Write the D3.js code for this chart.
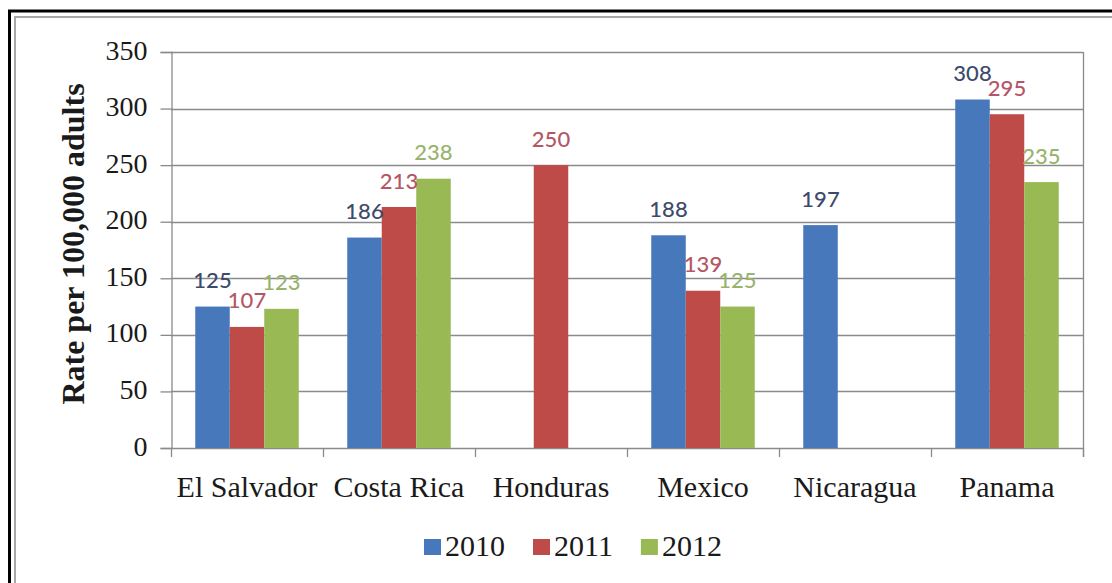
<!DOCTYPE html>
<html>
<head>
<meta charset="utf-8">
<script src="https://cdn.jsdelivr.net/npm/d3@7"></script>
<style>
  html, body { margin: 0; padding: 0; background: #fff; }
  svg { display: block; }
</style>
</head>
<body>
<svg id="chart" width="1112" height="583"></svg>
<script>
const categories = ["El Salvador", "Costa Rica", "Honduras", "Mexico", "Nicaragua", "Panama"];
const years = ["2010", "2011", "2012"];
const values2010 = [125, 186, null, 188, 197, 308];
const values2011 = [107, 213, 250, 139, null, 295];
const values2012 = [123, 238, null, 125, null, 235];
const yTicks = [0, 50, 100, 150, 200, 250, 300, 350];
const yTitle = "Rate per 100,000 adults";

const seriesValues = [values2010, values2011, values2012];
const barColors = ["#4678bb", "#be4b48", "#98b954"];
const labelColors = ["#3d4a6c", "#b45666", "#98b46c"];

const svg = d3.select("#chart");
const W = 1112, H = 583;
const plot = { left: 171, right: 1083, top: 52, bottom: 448 };
const serif = "'Liberation Serif', 'Times New Roman', serif";
const gridColor = "#8a8a8a";

// outer frame
svg.append("line").attr("x1", 9.5).attr("x2", 9.5).attr("y1", 10).attr("y2", H).attr("stroke", "#000").attr("stroke-width", 3);
svg.append("line").attr("x1", 8).attr("x2", W).attr("y1", 11).attr("y2", 11).attr("stroke", "#000").attr("stroke-width", 3);
svg.append("line").attr("x1", 15).attr("x2", 15).attr("y1", 17).attr("y2", H).attr("stroke", "#a8a8a8").attr("stroke-width", 2);
svg.append("line").attr("x1", 14).attr("x2", W).attr("y1", 17).attr("y2", 17).attr("stroke", "#a8a8a8").attr("stroke-width", 2);

const y = d3.scaleLinear().domain([0, 350]).range([plot.bottom, plot.top]);
const x0 = d3.scaleBand().domain(categories).range([plot.left, plot.right]).paddingInner(0).paddingOuter(0);
const x1 = d3.scaleBand().domain(years).range([0, x0.bandwidth()]).paddingInner(0).paddingOuter(0.703);

// gridlines
svg.append("g").selectAll("line").data(yTicks.filter(t => t > 0)).join("line")
  .attr("x1", plot.left).attr("x2", plot.right)
  .attr("y1", d => Math.round(y(d)) + 0.5).attr("y2", d => Math.round(y(d)) + 0.5)
  .attr("stroke", gridColor).attr("stroke-width", 1.3);

// right plot border
svg.append("line").attr("x1", plot.right + 0.5).attr("x2", plot.right + 0.5)
  .attr("y1", plot.top).attr("y2", plot.bottom + 9).attr("stroke", gridColor).attr("stroke-width", 1.3);

// y axis
const yAxis = d3.axisLeft(y).tickValues(yTicks).tickSize(11).tickPadding(13).tickFormat(d3.format("d"));
const gy = svg.append("g").attr("transform", `translate(${plot.left + 0.5},0)`).call(yAxis);
gy.select(".domain").attr("stroke", gridColor).attr("stroke-width", 1.3);
gy.selectAll(".tick line").attr("stroke", gridColor).attr("stroke-width", 1.3);
gy.selectAll(".tick text").attr("font-family", serif).attr("font-size", 28).attr("fill", "#1a1a1a").attr("dy", "0.25em");

// x axis
const bounds = categories.map(c => x0(c)).concat([plot.right]);
svg.append("line").attr("x1", plot.left).attr("x2", plot.right).attr("y1", plot.bottom + 0.5).attr("y2", plot.bottom + 0.5)
  .attr("stroke", gridColor).attr("stroke-width", 1.3);
svg.append("g").selectAll("line").data(bounds).join("line")
  .attr("x1", d => d + 0.5).attr("x2", d => d + 0.5)
  .attr("y1", plot.bottom).attr("y2", plot.bottom + 9)
  .attr("stroke", gridColor).attr("stroke-width", 1.3);
svg.append("g").selectAll("text").data(categories).join("text")
  .attr("x", d => x0(d) + x0.bandwidth() / 2)
  .attr("y", 497)
  .attr("text-anchor", "middle")
  .attr("font-family", serif).attr("font-size", 30).attr("fill", "#1a1a1a")
  .text(d => d);

// bars
const barData = [];
seriesValues.forEach((vals, si) => {
  vals.forEach((v, ci) => {
    if (v !== null) barData.push({ cat: categories[ci], year: years[si], si, v });
  });
});
svg.append("g").selectAll("rect").data(barData).join("rect")
  .attr("x", d => x0(d.cat) + x1(d.year))
  .attr("width", x1.bandwidth())
  .attr("y", d => y(d.v))
  .attr("height", d => y(0) - y(d.v))
  .attr("fill", d => barColors[d.si]);

// value labels
svg.append("g").selectAll("text").data(barData).join("text")
  .attr("x", d => x0(d.cat) + x1(d.year) + x1.bandwidth() / 2)
  .attr("y", d => y(d.v) - 27)
  .attr("dominant-baseline", "central")
  .attr("text-anchor", "middle")
  .attr("font-family", "Lato, 'Open Sans', sans-serif").attr("font-size", 22).attr("font-weight", 500)
  .attr("fill", d => labelColors[d.si])
  .text(d => d.v);

// y title
svg.append("text")
  .attr("transform", "translate(73,244) rotate(-90)")
  .attr("text-anchor", "middle").attr("dominant-baseline", "central")
  .attr("font-family", serif).attr("font-size", 32).attr("font-weight", "bold").attr("fill", "#1a1a1a")
  .text(yTitle);

// legend
const legend = svg.append("g");
let lx = 424;
years.forEach((yr, i) => {
  const g = legend.append("g").attr("transform", `translate(${lx},0)`);
  g.append("rect").attr("x", 0).attr("y", 539).attr("width", 17).attr("height", 16).attr("fill", barColors[i]);
  const t = g.append("text").attr("x", 21).attr("y", 556)
    .attr("font-family", serif).attr("font-size", 30).attr("fill", "#1a1a1a").text(yr);
  lx += 21 + t.node().getComputedTextLength() + 28;
});
</script>
</body>
</html>
